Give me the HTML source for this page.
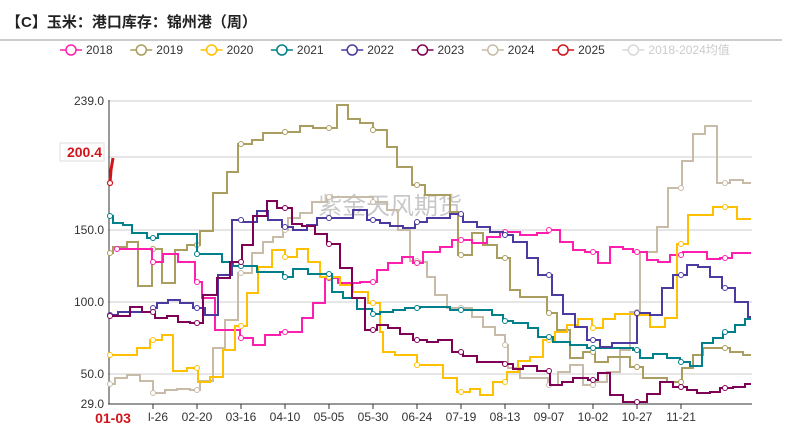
<!DOCTYPE html>
<html><head><meta charset="utf-8"><style>
body{margin:0;background:#fff;width:792px;height:430px;overflow:hidden;font-family:"Liberation Sans","Noto Sans CJK SC",sans-serif}
</style></head><body>
<svg id="s" width="792" height="430" xmlns="http://www.w3.org/2000/svg" font-family="Liberation Sans, Noto Sans CJK SC, sans-serif">
<text x="6" y="27" font-size="15" font-weight="bold" fill="#222">【C】玉米：港口库存：锦州港（周）</text>
<line x1="0" y1="40" x2="782" y2="40" stroke="#999" stroke-width="1"/>
<g stroke="#ccc" stroke-width="1">
<line x1="108" y1="101" x2="752" y2="101"/><line x1="108" y1="157" x2="752" y2="157"/>
<line x1="108" y1="230" x2="752" y2="230"/><line x1="108" y1="302" x2="752" y2="302"/>
<line x1="108" y1="374" x2="752" y2="374"/></g>
<line x1="109" y1="100" x2="109" y2="404" stroke="#333"/>
<line x1="108" y1="404" x2="752" y2="404" stroke="#333"/>
<g font-size="12" fill="#333" text-anchor="end">
<text x="104" y="105">239.0</text><text x="104" y="234">150.0</text><text x="104" y="306">100.0</text>
<text x="104" y="378">50.0</text><text x="104" y="408">29.0</text></g>
<rect x="60" y="143" width="44" height="18" fill="#fff" stroke="#ddd"/>
<text x="102" y="157" font-size="14" font-weight="bold" fill="#d2151c" text-anchor="end">200.4</text>
<g font-size="12" fill="#333" text-anchor="middle">
<text x="113" y="423" fill="#d2151c" font-weight="bold" font-size="14">01-03</text>
<text x="158" y="421">l-26</text><text x="197" y="421">02-20</text><text x="241" y="421">03-16</text>
<text x="285" y="421">04-10</text><text x="329" y="421">05-05</text><text x="373" y="421">05-30</text>
<text x="417" y="421">06-24</text><text x="461" y="421">07-19</text><text x="505" y="421">08-13</text>
<text x="549" y="421">09-07</text><text x="593" y="421">10-02</text><text x="637" y="421">10-27</text>
<text x="681" y="421">11-21</text></g>
<g stroke="#333"><line x1="153" y1="404" x2="153" y2="409"/><line x1="197" y1="404" x2="197" y2="409"/><line x1="241" y1="404" x2="241" y2="409"/><line x1="285" y1="404" x2="285" y2="409"/><line x1="329" y1="404" x2="329" y2="409"/><line x1="373" y1="404" x2="373" y2="409"/><line x1="417" y1="404" x2="417" y2="409"/><line x1="461" y1="404" x2="461" y2="409"/><line x1="505" y1="404" x2="505" y2="409"/><line x1="549" y1="404" x2="549" y2="409"/><line x1="593" y1="404" x2="593" y2="409"/><line x1="637" y1="404" x2="637" y2="409"/><line x1="681" y1="404" x2="681" y2="409"/></g>
<text x="318" y="214" font-size="24" fill="#bbb" opacity="0.8">紫金天风期货</text>
<g id="series"></g>
<path d="M110 183 L111 170 L113 158" stroke="#d2151c" stroke-width="3" fill="none"/>
<circle cx="110" cy="183" r="2.5" fill="#fff" stroke="#d2151c" stroke-width="1.2"/>
<g id="legend" font-size="12" fill="#333"></g>
</svg>
<script>
const S=[
["#c8bca8",[[110,384],[115,378],[127,375],[140,381],[153,393],[165,390],[177,389],[190,390],[200,381],[213,348],[225,320],[238,273],[252,253],[263,242],[273,237],[283,230],[288,218],[300,213],[312,202],[327,197],[373,202],[387,210],[398,230],[410,261],[420,262],[427,277],[435,295],[447,308],[472,317],[483,327],[495,335],[505,345],[508,368],[520,378],[548,385],[558,372],[570,365],[583,385],[595,382],[607,372],[620,350],[630,312],[640,252],[657,227],[668,188],[682,161],[693,134],[705,126],[717,183],[730,180],[743,183]]],
["#a99d5f",[[110,253],[113,247],[127,242],[138,286],[152,249],[162,283],[175,250],[187,245],[200,231],[213,193],[227,172],[238,144],[252,140],[263,133],[285,132],[300,126],[313,128],[337,105],[348,119],[360,123],[373,130],[387,147],[397,167],[412,185],[425,195],[450,212],[458,255],[472,233],[483,245],[497,258],[510,290],[520,297],[547,313],[557,330],[570,358],[583,352],[595,362],[608,357],[630,367],[643,378],[667,382],[682,368],[693,355],[703,348],[730,352],[743,355]]],
["#ff1faf",[[117,249],[152,262],[163,254],[178,262],[195,282],[202,298],[215,330],[240,338],[253,345],[265,335],[280,332],[302,318],[313,303],[325,278],[338,283],[360,282],[377,270],[388,263],[402,257],[413,263],[423,252],[440,247],[452,240],[472,243],[487,237],[500,232],[520,235],[537,233],[548,230],[560,242],[573,250],[585,252],[598,263],[610,247],[623,249],[633,252],[647,260],[658,262],[670,255],[683,252],[707,259],[720,258],[732,253]]],
["#ffc000",[[110,355],[137,348],[150,340],[162,335],[173,371],[187,368],[198,382],[210,377],[223,350],[235,326],[247,293],[258,267],[272,250],[285,257],[297,249],[308,262],[320,277],[340,285],[353,292],[368,303],[380,332],[383,352],[395,355],[417,365],[443,378],[457,392],[470,389],[480,395],[493,382],[507,372],[518,361],[530,357],[543,340],[555,332],[567,325],[578,319],[592,328],[603,319],[615,314],[640,315],[650,327],[665,318],[677,244],[688,215],[713,207],[737,219]]],
["#00808a",[[110,216],[113,223],[123,225],[132,233],[147,238],[158,234],[197,254],[222,262],[233,266],[257,272],[283,277],[293,269],[308,274],[332,292],[343,298],[357,309],[372,314],[380,312],[393,310],[405,308],[420,307],[450,310],[492,315],[503,321],[513,323],[528,328],[538,337],[553,342],[570,345],[587,348],[633,350],[640,358],[653,354],[667,358],[680,362],[690,366],[702,343],[713,338],[723,332],[735,325],[745,319]]],
["#4b3aa0",[[110,315],[118,312],[153,308],[157,303],[168,300],[180,303],[193,308],[205,315],[218,275],[232,220],[243,222],[257,211],[268,220],[282,227],[293,230],[307,225],[317,218],[353,210],[367,220],[380,223],[390,226],[403,228],[415,222],[427,218],[450,214],[463,222],[477,227],[490,232],[503,235],[513,242],[527,258],[538,275],[552,295],[563,314],[575,327],[587,340],[600,347],[612,343],[637,313],[650,315],[662,288],[673,275],[687,265],[698,267],[710,277],[722,288],[735,302],[748,317]]],
["#800055",[[110,316],[130,307],[142,312],[155,318],[167,316],[178,322],[190,323],[203,295],[217,278],[230,262],[242,245],[253,216],[267,201],[277,208],[292,224],[302,226],[315,234],[327,244],[340,268],[352,298],[365,330],[377,325],[388,328],[400,334],[413,340],[427,342],[438,340],[452,352],[463,356],[477,362],[503,364],[513,369],[523,366],[537,371],[550,385],[562,382],[573,378],[588,380],[598,373],[610,395],[623,402],[647,394],[660,382],[673,387],[687,390],[697,393],[710,392],[720,388],[733,387],[745,384]]]
];
const ns="http://www.w3.org/2000/svg";
const g=document.getElementById("series");
const ticks=[153,197,241,285,329,373,417,461,505,549,593,637,681,725];
function yAt(p,x){let y=null;for(const q of p){if(q[0]<=x)y=q[1];}return y;}
S.forEach(([c,p])=>{
 let d="M"+p[0][0]+" "+p[0][1];
 for(let i=1;i<p.length;i++){d+=" H"+p[i][0]+" V"+p[i][1];}
 d+=" H751";
 const e=document.createElementNS(ns,"path");
 e.setAttribute("d",d);e.setAttribute("stroke",c);e.setAttribute("stroke-width","2");e.setAttribute("fill","none");
 g.appendChild(e);
 const pts=[p[0][0]].concat(ticks);
 pts.forEach(x=>{const y=yAt(p,x);if(y==null)return;
  const ci=document.createElementNS(ns,"circle");
  ci.setAttribute("cx",x);ci.setAttribute("cy",y);ci.setAttribute("r","2.5");
  ci.setAttribute("fill","#fff");ci.setAttribute("stroke",c);ci.setAttribute("stroke-width","1");
  g.appendChild(ci);});
});
const L=[["2018","#ff1faf"],["2019","#a99d5f"],["2020","#ffc000"],["2021","#00808a"],["2022","#4b3aa0"],["2023","#800055"],["2024","#c8bca8"],["2025","#d2151c"],["2018-2024均值","#d8d8d8"]];
const lg=document.getElementById("legend");
L.forEach(([t,c],i)=>{
 const x=60+i*70.3;
 const ln=document.createElementNS(ns,"line");
 ln.setAttribute("x1",x);ln.setAttribute("x2",x+22);ln.setAttribute("y1",50);ln.setAttribute("y2",50);
 ln.setAttribute("stroke",c);ln.setAttribute("stroke-width","1.5");lg.appendChild(ln);
 const ci=document.createElementNS(ns,"circle");
 ci.setAttribute("cx",x+11);ci.setAttribute("cy",50);ci.setAttribute("r","5");
 ci.setAttribute("fill","#fff");ci.setAttribute("stroke",c);ci.setAttribute("stroke-width","1.5");lg.appendChild(ci);
 const tx=document.createElementNS(ns,"text");
 tx.setAttribute("x",x+26);tx.setAttribute("y",54);tx.textContent=t;
 if(i==8)tx.setAttribute("fill","#ccc");
 lg.appendChild(tx);
});
</script>
</body></html>
